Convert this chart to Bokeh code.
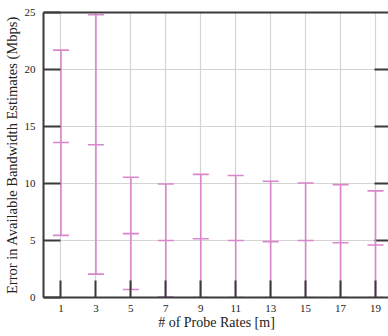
import math
from bokeh.plotting import figure
from bokeh.models import Range1d, LinearAxis, FixedTicker
from bokeh.embed import file_html
from bokeh.resources import INLINE

probe_rates = [1, 3, 5, 7, 9, 11, 13, 15, 17, 19]
err_high = [21.7, 24.8, 10.55, 9.95, 10.8, 10.7, 10.2, 10.05, 9.9, 9.35]
err_mean = [13.6, 13.4, 5.6, 5.0, 5.15, 5.0, 4.9, 5.0, 4.8, 4.6]
err_low = [5.45, 2.05, 0.7, 0.05, 0.0, 0.0, 0.0, 0.0, 0.0, 0.0]
y_ticks = [0, 5, 10, 15, 20, 25]
right_ticks = [5, 10, 15, 20]
x_end = 19.8

FONT = "Liberation Serif"
PINK = "#d986cc"
DARK = "#3a3a3a"

p = figure(frame_width=346, frame_height=285, output_backend="svg",
           toolbar_location=None, x_range=Range1d(0, x_end), y_range=Range1d(0, 25),
           min_border_left=39, min_border_top=12, min_border_right=0, min_border_bottom=0,
           x_axis_label="# of Probe Rates [m]",
           y_axis_label="Error in Available Bandwidth Estimates (Mbps)")
p.outline_line_color = None
p.background_fill_color = "white"

for ax in (p.xaxis[0], p.yaxis[0]):
    ax.major_tick_in = 17
    ax.major_tick_out = 0
    ax.minor_tick_in = 0
    ax.minor_tick_out = 0
    ax.major_tick_line_color = DARK
    ax.major_tick_line_width = 2
    ax.axis_line_color = DARK
    ax.axis_line_width = 2
    ax.major_label_text_font = FONT
    ax.major_label_text_font_size = "11px"
    ax.major_label_text_color = "#222222"
    ax.axis_label_text_font = FONT
    ax.axis_label_text_font_style = "normal"
    ax.axis_label_text_color = "#222222"

p.xaxis[0].axis_label_text_font_size = "14px"
p.yaxis[0].axis_label_text_font_size = "14.5px"
p.xaxis[0].ticker = FixedTicker(ticks=probe_rates)
p.yaxis[0].ticker = FixedTicker(ticks=y_ticks)
p.xaxis[0].major_label_standoff = 7
p.xaxis[0].axis_label_standoff = 0
p.yaxis[0].major_label_standoff = 8
p.yaxis[0].axis_label_standoff = 2

top = LinearAxis(ticker=FixedTicker(ticks=[]))
top.major_tick_in = 0
top.major_tick_out = 0
top.minor_tick_in = 0
top.minor_tick_out = 0
top.axis_line_color = DARK
top.axis_line_width = 2
top.major_label_standoff = 0
p.add_layout(top, "above")

p.xgrid.ticker = FixedTicker(ticks=probe_rates)
p.ygrid.ticker = FixedTicker(ticks=y_ticks)
p.xgrid.grid_line_color = "#d4d4d4"
p.ygrid.grid_line_color = "#d4d4d4"
p.xgrid.grid_line_width = 1.2
p.ygrid.grid_line_width = 1.2

# right-side inward ticks (right border is cropped in the reference)
p.ray(x=[x_end] * len(right_ticks), y=right_ticks, length=15, length_units="screen",
      angle=math.pi, line_color=DARK, line_width=2)

p.segment(x0=probe_rates, y0=err_low, x1=probe_rates, y1=err_high,
          line_color=PINK, line_width=1.6)
for vals in (err_low, err_mean, err_high):
    p.dash(x=probe_rates, y=vals, size=16, line_color=PINK, line_width=1.6)

open("out.html", "w").write(file_html(p, INLINE))
